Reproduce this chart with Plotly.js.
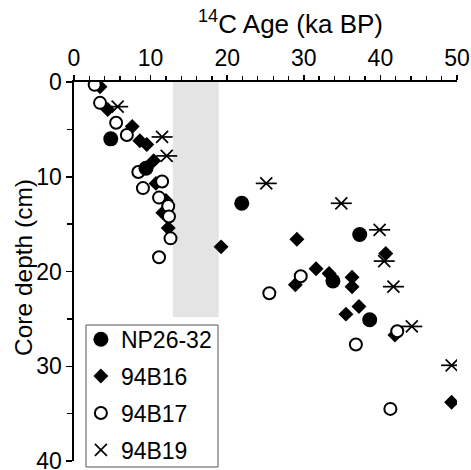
<!DOCTYPE html>
<html>
<head>
<meta charset="utf-8">
<script src="https://cdn.plot.ly/plotly-3.0.1.min.js"></script>
<style>html,body{margin:0;padding:0;background:#fff;}#chart{width:471px;height:470px;}</style>
</head>
<body>
<div id="chart"></div>
<script>
// ---- data (age in ka BP, depth in cm) ----
const seriesNames = ["NP26-32", "94B16", "94B17", "94B19"];

const np2632Age   = [4.8, 9.4, 21.9, 37.3, 33.8, 38.6];
const np2632Depth = [6.0, 9.1, 12.8, 16.1, 21.0, 25.1];

const b16Age   = [3.4, 4.4, 7.6, 8.6, 9.5, 10.4, 10.7, 12.0, 11.6, 12.3, 19.2, 29.1, 40.7, 31.6, 33.3, 36.3, 36.3, 28.9, 37.2, 35.5, 41.9, 49.3];
const b16Depth = [0.5, 2.9, 4.7, 6.2, 6.6, 8.3, 10.7, 12.5, 13.8, 15.4, 17.4, 16.6, 18.1, 19.7, 20.2, 20.6, 21.6, 21.4, 23.7, 24.5, 26.7, 33.8];

const b17Age   = [2.7, 3.4, 5.5, 6.9, 8.4, 11.5, 9.0, 11.1, 12.3, 12.4, 12.6, 11.1, 29.6, 25.5, 42.2, 36.8, 41.3];
const b17Depth = [0.3, 2.2, 4.3, 5.6, 9.5, 10.5, 11.2, 12.2, 13.1, 14.2, 16.5, 18.5, 20.5, 22.3, 26.3, 27.7, 34.5];

const b19Age   = [5.7, 11.5, 12.1, 25.1, 34.9, 39.9, 40.5, 41.7, 44.1, 49.3];
const b19Depth = [2.6, 5.8, 7.8, 10.7, 12.8, 15.6, 18.9, 21.6, 25.8, 29.9];

const bandAge = [12.9, 18.9];     // shaded interval (ka BP)
const bandDepth = [0, 24.8];      // shaded interval (cm)

const xTickVals = [0, 10, 20, 30, 40, 50];
const yTickVals = [0, 10, 20, 30, 40];

const xTitle = "<sup>14</sup>C Age (ka BP)";
const yTitle = "Core depth (cm)";

// ---- traces ----
const FONT = "Arial, 'Liberation Sans', Helvetica, sans-serif";
const traces = [
  {
    name: seriesNames[1], x: b16Age, y: b16Depth, type: "scatter", mode: "markers",
    legendrank: 2, legendgroup: "g2",
    marker: {symbol: "diamond", size: 11.5, color: "#000", line: {width: 0}}
  },
  {
    name: seriesNames[2], x: b17Age, y: b17Depth, type: "scatter", mode: "markers",
    legendrank: 3, legendgroup: "g3",
    marker: {symbol: "circle", size: 12, color: "#fff", line: {width: 2, color: "#000"}}
  },
  {
    name: seriesNames[0], x: np2632Age, y: np2632Depth, type: "scatter", mode: "markers",
    legendrank: 1, legendgroup: "g1",
    marker: {symbol: "circle", size: 15, color: "#000", line: {width: 0}}
  },
  {
    name: seriesNames[3], x: b19Age, y: b19Depth, type: "scatter", mode: "markers",
    legendrank: 4, legendgroup: "g4",
    marker: {symbol: "x-thin-open", size: 12, color: "#000", line: {width: 1.7, color: "#000"}}
  },
  {
    name: seriesNames[3], x: b19Age, y: b19Depth, type: "scatter", mode: "markers",
    legendgroup: "g4", showlegend: false, hoverinfo: "skip",
    marker: {symbol: "line-ew-open", size: 15, color: "#000", line: {width: 1.7, color: "#000"}}
  }
];

const layout = {
  width: 471, height: 470,
  margin: {l: 74, r: 14, t: 82, b: 9, pad: 0, autoexpand: false},
  paper_bgcolor: "#fff", plot_bgcolor: "#fff",
  font: {family: FONT, color: "#000", size: 22},
  showlegend: true,
  xaxis: {
    side: "top", range: [0, 50], tickvals: xTickVals, ticktext: xTickVals.map(String),
    ticks: "outside", ticklen: 5, tickwidth: 1.5, tickcolor: "#000",
    showline: true, linewidth: 1.6, linecolor: "#000",
    showgrid: false, zeroline: false, automargin: false, ticklabeloverflow: "allow",
    minor: {dtick: 2, ticks: "outside", ticklen: 4, tickwidth: 1.3, tickcolor: "#000", showgrid: false},
    tickfont: {size: 23, family: FONT},
    fixedrange: true
  },
  yaxis: {
    range: [40, 0], tickvals: yTickVals, ticktext: yTickVals.map(String),
    ticks: "outside", ticklen: 6, tickwidth: 1.5, tickcolor: "#000",
    showline: true, linewidth: 1.6, linecolor: "#000",
    showgrid: false, zeroline: false, automargin: false, ticklabeloverflow: "allow",
    minor: {dtick: 5, ticks: "outside", ticklen: 5, tickwidth: 1.3, tickcolor: "#000", showgrid: false},
    tickfont: {size: 23, family: FONT},
    fixedrange: true
  },
  legend: {
    x: 0.018, y: 0.378, xanchor: "left", yanchor: "top",
    borderwidth: 0, bgcolor: "rgba(0,0,0,0)",
    font: {size: 23, family: FONT}, traceorder: "grouped", tracegroupgap: 4,
    itemwidth: 30
  },
  annotations: [
    {
      xref: "paper", yref: "paper", x: 0.565, y: 1, yshift: 60,
      xanchor: "center", yanchor: "middle", showarrow: false,
      text: xTitle, font: {size: 26, family: FONT}
    },
    {
      xref: "paper", yref: "paper", x: 0, xshift: -51, y: 1 - (268 - 82) / 379,
      xanchor: "center", yanchor: "middle", showarrow: false, textangle: -90,
      text: yTitle, font: {size: 24.5, family: FONT}
    }
  ],
  shapes: [
    {
      type: "rect", xref: "x", yref: "y", layer: "below",
      x0: bandAge[0], x1: bandAge[1], y0: bandDepth[0], y1: bandDepth[1],
      fillcolor: "#e4e4e4", line: {width: 0}
    },
    {
      type: "rect", xref: "paper", yref: "paper", layer: "above",
      x0: 0.0313, x1: 0.376, y0: -0.0158, y1: 0.3588,
      fillcolor: "rgba(0,0,0,0)", line: {width: 1, color: "#555"}
    }
  ]
};

Plotly.newPlot("chart", traces, layout, {displayModeBar: false, staticPlot: true});
</script>
</body>
</html>
